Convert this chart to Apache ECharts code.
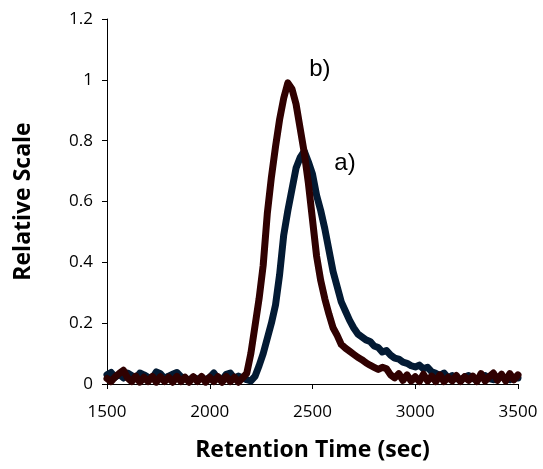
<!DOCTYPE html>
<html>
<head>
<meta charset="utf-8">
<script src="https://cdn.jsdelivr.net/npm/echarts@6/dist/echarts.min.js"></script>
<style>
  html, body { margin: 0; padding: 0; background: #fff; }
  #chart { width: 543px; height: 469px; }
</style>
</head>
<body>
<div id="chart"></div>
<script>
// Retention times (sec), sampled every 20 s
const retentionTimes = [
  1500,1520,1540,1560,1580,1600,1620,1640,1660,1680,
  1700,1720,1740,1760,1780,1800,1820,1840,1860,1880,
  1900,1920,1940,1960,1980,2000,2020,2040,2060,2080,
  2100,2120,2140,2160,2180,2200,2220,2240,2260,2280,
  2300,2320,2340,2360,2380,2400,2420,2440,2460,2480,
  2500,2520,2540,2560,2580,2600,2620,2640,2660,2680,
  2700,2720,2740,2760,2780,2800,2820,2840,2860,2880,
  2900,2920,2940,2960,2980,3000,3020,3040,3060,3080,
  3100,3120,3140,3160,3180,3200,3220,3240,3260,3280,
  3300,3320,3340,3360,3380,3400,3420,3440,3460,3480,
  3500
];

// Trace a) relative signal
const traceA = [
  0.030,0.038,0.022,0.032,0.020,0.036,0.028,0.018,0.036,0.030,
  0.022,0.018,0.040,0.034,0.018,0.026,0.032,0.038,0.024,0.018,
  0.014,0.022,0.016,0.020,0.014,0.022,0.036,0.018,0.014,0.032,
  0.036,0.018,0.026,0.020,0.014,0.010,0.025,0.060,0.100,0.150,
  0.200,0.260,0.360,0.490,0.570,0.640,0.710,0.745,0.765,0.730,
  0.690,0.620,0.570,0.510,0.440,0.370,0.320,0.270,0.240,0.210,
  0.185,0.165,0.155,0.145,0.140,0.125,0.120,0.105,0.110,0.095,
  0.085,0.082,0.072,0.068,0.060,0.056,0.062,0.050,0.055,0.040,
  0.035,0.028,0.036,0.020,0.028,0.018,0.014,0.022,0.028,0.018,
  0.014,0.022,0.028,0.018,0.014,0.022,0.028,0.018,0.014,0.022,
  0.020
];

// Trace b) relative signal
const traceB = [
  0.018,0.008,0.024,0.035,0.045,0.020,0.008,0.026,0.006,0.022,
  0.008,0.025,0.006,0.024,0.008,0.022,0.006,0.025,0.008,0.022,
  0.006,0.024,0.008,0.025,0.006,0.022,0.008,0.024,0.006,0.025,
  0.008,0.022,0.006,0.020,0.035,0.100,0.190,0.280,0.390,0.560,
  0.680,0.780,0.870,0.940,0.990,0.970,0.920,0.840,0.760,0.660,
  0.540,0.420,0.340,0.280,0.230,0.185,0.160,0.130,0.118,0.108,
  0.098,0.088,0.080,0.070,0.062,0.055,0.048,0.055,0.050,0.030,
  0.020,0.034,0.012,0.030,0.010,0.024,0.008,0.032,0.010,0.026,
  0.008,0.030,0.008,0.022,0.010,0.028,0.008,0.024,0.012,0.026,
  0.008,0.034,0.010,0.024,0.036,0.012,0.032,0.010,0.034,0.014,
  0.030
];

// Curve labels placed in data coordinates
const curveLabels = [
  { text: 'b)', t: 2536, v: 1.035 },
  { text: 'a)', t: 2658, v: 0.725 }
];

const xTicks = { min: 1500, max: 3500, interval: 500 };
const yTicks = { min: 0, max: 1.2, interval: 0.2 };

const pairs = (vals) => retentionTimes.map((t, i) => [t, vals[i]]);

const chart = echarts.init(document.getElementById('chart'), null, { renderer: 'canvas' });

const axisText = { color: '#000', fontFamily: 'Open Sans', fontSize: 17 };

chart.setOption({
  animation: false,
  backgroundColor: '#fff',
  grid: { left: 107, right: 25, top: 19, bottom: 85, containLabel: false },
  xAxis: {
    type: 'value',
    min: xTicks.min, max: xTicks.max, interval: xTicks.interval,
    name: 'Retention Time (sec)',
    nameLocation: 'middle',
    nameGap: 55,
    nameTextStyle: { color: '#000', fontFamily: 'Open Sans', fontWeight: 'bold', fontSize: 23 },
    axisLine: { onZero: false, lineStyle: { color: '#000', width: 1 } },
    axisTick: { show: true, inside: false, length: 5, lineStyle: { color: '#000' } },
    axisLabel: Object.assign({ margin: 20, formatter: v => String(v) }, axisText),
    splitLine: { show: false }
  },
  yAxis: {
    type: 'value',
    min: yTicks.min, max: yTicks.max, interval: yTicks.interval,
    name: 'Relative Scale',
    nameLocation: 'middle',
    nameGap: 72,
    nameRotate: 90,
    nameTextStyle: { color: '#000', fontFamily: 'Open Sans', fontWeight: 'bold', fontSize: 23 },
    axisLine: { show: true, lineStyle: { color: '#000', width: 1 } },
    axisTick: { show: true, inside: false, length: 5, lineStyle: { color: '#000' } },
    axisLabel: Object.assign({ margin: 14 }, axisText),
    splitLine: { show: false }
  },
  series: [
    {
      name: 'a)',
      type: 'line',
      data: pairs(traceA),
      showSymbol: false,
      smooth: false,
      lineStyle: { color: '#031a33', width: 7, cap: 'round', join: 'round' },
      z: 2
    },
    {
      name: 'b)',
      type: 'line',
      data: pairs(traceB),
      showSymbol: false,
      smooth: false,
      lineStyle: { color: '#300101', width: 7, cap: 'round', join: 'round' },
      z: 3
    },
    {
      name: 'labels',
      type: 'scatter',
      symbolSize: 1,
      itemStyle: { color: 'rgba(0,0,0,0)' },
      silent: true,
      data: curveLabels.map(d => ({ value: [d.t, d.v], name: d.text })),
      label: {
        show: true,
        position: 'inside',
        formatter: p => p.name,
        color: '#000',
        textBorderWidth: 0,
        opacity: 1,
        fontFamily: 'Liberation Sans',
        fontSize: 24
      },
      z: 4
    }
  ]
});
</script>
</body>
</html>
